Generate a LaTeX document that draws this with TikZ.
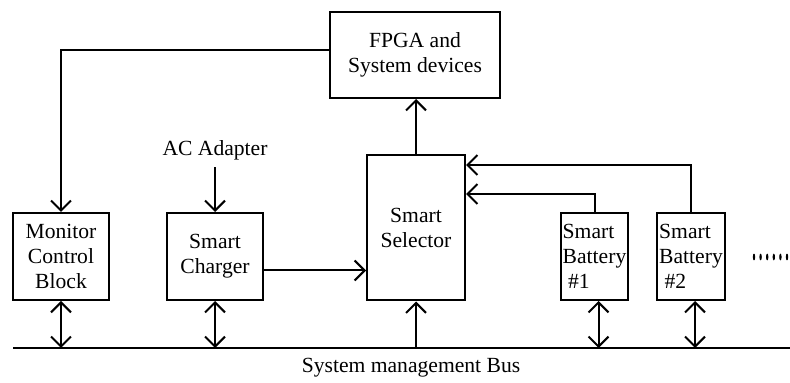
\documentclass[tikz,border=0pt]{standalone}
\usepackage{fontspec}
\setmainfont{Liberation Serif}
\usetikzlibrary{positioning,arrows.meta}

\begin{document}
\begin{tikzpicture}[
  x=0.5pt, y=-0.5pt,
  line width=1pt,
  >={Straight Barb[length=5pt,width=10pt]},
  every node/.style={font=\fontsize{10.8}{12.5}\selectfont},
  block/.style={draw, align=center, inner sep=1pt, minimum width=48pt, minimum height=43.5pt},
  arrow/.style={->},
  link/.style={<->}
]
\useasboundingbox (0,0) rectangle (790,383);

\node[block, minimum width=85pt, minimum height=43pt] (fpga) at (415,55) {FPGA and\\System devices};
\node[block] (monitor) at (61,256.5) {Monitor\\Control\\Block};
\node[block] (charger) at (215,256.5) {Smart\\Charger};
\node[block, minimum width=49pt, minimum height=72.5pt] (selector) at (416,228) {Smart\\Selector};
\node[block, align=left, inner sep=0.3pt, minimum width=33.5pt] (bat1) at (594.5,256.5) {Smart\\Battery\\\ \#1};
\node[block, align=left, inner sep=0.3pt, minimum width=34pt] (bat2) at (691,256.5) {Smart\\Battery\\\ \#2};
\node (ac) at (215,150) {AC Adapter};
\node (buslabel) at (411,368) {System management Bus};

\coordinate (busL) at (13,348);
\coordinate (busR) at (790,348);
\draw (busL) -- (busR);

% links between blocks
\draw[arrow] ([yshift=2.5pt]fpga.west) -| (monitor.north);
\draw[arrow] (ac) -- (charger.north);
\draw[arrow] ([yshift=-7pt]charger.east) -- ([yshift=-7pt]charger.east -| selector.west);
\draw[arrow] (selector.north) -- (selector.north |- fpga.south);
\draw[arrow] (bat1.north) |- ([yshift=17pt]selector.east);
\draw[arrow] (bat2.north) |- ([yshift=31.5pt]selector.east);

% bus connections
\draw[link] (monitor.south) -- (monitor.south |- busL);
\draw[link] (charger.south) -- (charger.south |- busL);
\draw[arrow] (selector.south |- busL) -- (selector.south);
\draw[link] ([xshift=2pt]bat1.south) -- ([xshift=2pt]bat1.south |- busL);
\draw[link] ([xshift=2pt]bat2.south) -- ([xshift=2pt]bat2.south |- busL);

% more batteries
\foreach \i in {0,...,5}
  \fill (754+\i*6.6,257) ellipse (0.6pt and 1.7pt);
\end{tikzpicture}
\end{document}
